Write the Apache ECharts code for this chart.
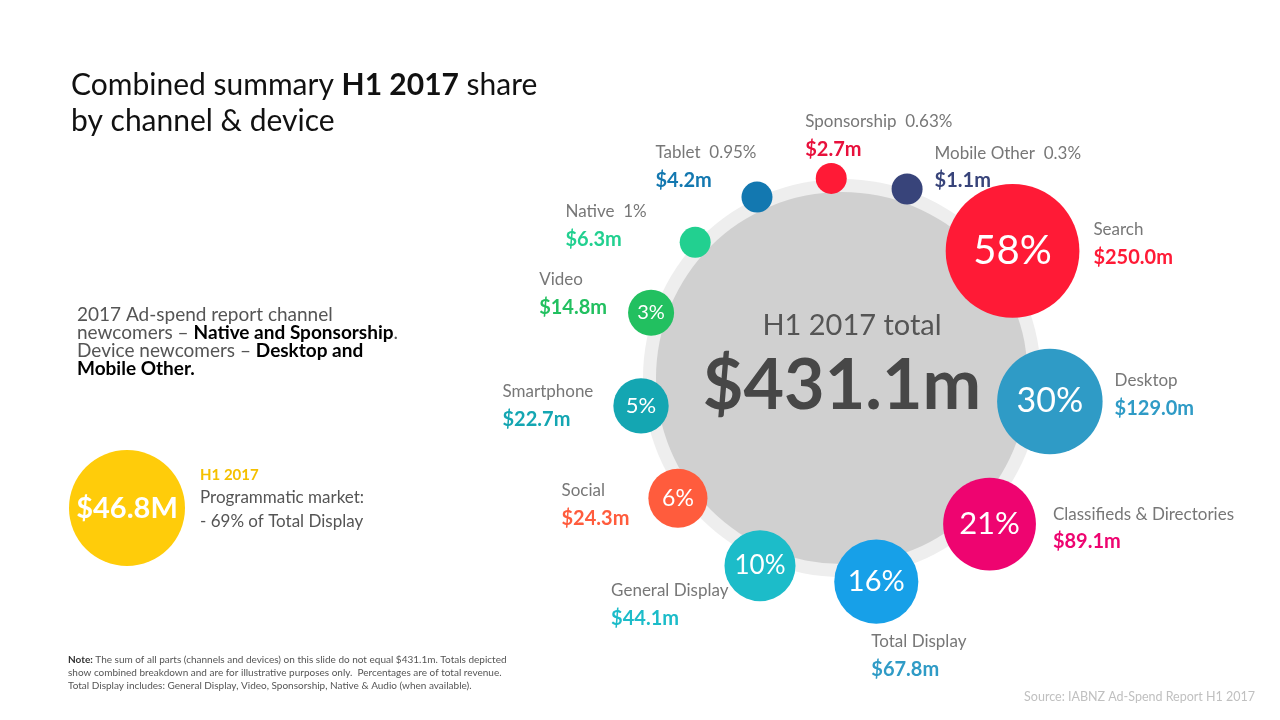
<!DOCTYPE html>
<html>
<head>
<meta charset="utf-8">
<title>Combined summary H1 2017 share by channel & device</title>
<script src="https://cdn.jsdelivr.net/npm/echarts@6/dist/echarts.min.js"></script>
<style>
  html, body { margin: 0; padding: 0; background: #fff; }
  #chart { width: 1280px; height: 720px; }
</style>
</head>
<body>
<div id="chart"></div>
<script>
// values
var channels = ['Search', 'Desktop', 'Classifieds & Directories', 'Total Display', 'General Display',
    'Social', 'Smartphone', 'Video', 'Native', 'Tablet', 'Sponsorship', 'Mobile Other'];
var sharePct = [58, 30, 21, 16, 10, 6, 5, 3, 1, 0.95, 0.63, 0.3];
var spendM = [250.0, 129.0, 89.1, 67.8, 44.1, 24.3, 22.7, 14.8, 6.3, 4.2, 2.7, 1.1];
var totalSpend = 431.1;
var programmaticSpend = 46.8;
var programmaticShare = 69;

var bubbleColors = ['#ff1a36', '#2f9bc6', '#ee0470', '#17a0e8', '#1cbcc9', '#ff5c3d',
    '#14a6b2', '#22c060', '#22d090', '#1378b0', '#ff1a36', '#38447a'];
var valueColors = ['#ff1a36', '#2f9bc6', '#ee0470', '#2f9bc6', '#1cbcc9', '#ff5c3d',
    '#14a6b2', '#22c060', '#22d090', '#1378b0', '#e8103c', '#38447a'];

var FONT = 'Lato, "Open Sans", sans-serif';
var CX = 842, CY = 378;

// bubble radius (px) from share, small ones clamped
function bubbleR(p) {
    return Math.max(15.5, 15.5 * Math.pow(p, 0.36));
}
var radii = sharePct.map(bubbleR);

// put the bubbles round the ring, spacing grows with bubble size
var arcR = 205, k = 0.85;
var sumR = radii.reduce(function (s, r) { return s + r; }, 0);
var gap = (2 * Math.PI * arcR - 2 * k * sumR) / radii.length;
var angles = [];
var a = 53.3;
for (var i = 0; i < radii.length; i++) {
    angles.push(a % 360);
    a += (k * (radii[i] + radii[(i + 1) % radii.length]) + gap) / arcR * 180 / Math.PI;
}

// where each outer label sits relative to its bubble
var labelPlace = [
    {position: 'right', distance: 14, offset: [0, -7]},
    {position: 'right', distance: 12, offset: [0, -7]},
    {position: 'right', distance: 17, offset: [0, 4]},
    {position: 'bottom', distance: 4, align: 'left', offset: [-5, 0]},
    {position: 'left', distance: -4, offset: [0, 39]},
    {position: 'left', distance: 19, offset: [0, 6]},
    {position: 'left', distance: 20, offset: [0, 0]},
    {position: 'left', distance: 21, offset: [0, -19]},
    {position: 'left', distance: 33, offset: [0, -17]},
    {position: 'left', distance: -15, offset: [0, -31]},
    {position: 'inside', align: 'left', offset: [-26, -43]},
    {position: 'right', distance: 12, offset: [0, -22]}
];

var bubbleData = channels.map(function (c, i) {
    return {
        name: c,
        value: [196 + 0.25 * radii[i], angles[i]],
        itemStyle: {color: bubbleColors[i], opacity: 1},
        label: {fontSize: Math.round(0.45 * radii[i] + 10)}
    };
});

var labelData = channels.map(function (c, i) {
    var lp = labelPlace[i];
    var rich = {
        n: {fontFamily: FONT, fontSize: 17, color: '#777777', lineHeight: 28, align: 'left'},
        v: {fontFamily: FONT, fontSize: 20, fontWeight: 'bold', color: valueColors[i], lineHeight: 28, align: 'left'}
    };
    return {
        name: c,
        value: [196 + 0.25 * radii[i], angles[i]],
        label: {
            position: lp.position,
            distance: lp.distance,
            offset: lp.offset,
            align: lp.align,
            rich: rich
        }
    };
});

var chart = echarts.init(document.getElementById('chart'));

var option = {
    animation: false,
    backgroundColor: '#ffffff',
    textStyle: {fontFamily: FONT},
    title: {
        left: 66,
        top: 62,
        text: '{r|Combined summary }{b|H1 2017}{r| share}\n{r|by channel & device}',
        textStyle: {
            fontWeight: 'normal',
            rich: {
                r: {fontFamily: FONT, fontSize: 30, color: '#111', fontWeight: 'normal', lineHeight: 36},
                b: {fontFamily: FONT, fontSize: 30, color: '#111', fontWeight: 'bold', lineHeight: 36}
            }
        }
    },
    polar: {center: [CX, CY], radius: 260},
    angleAxis: {type: 'value', min: 0, max: 360, startAngle: 90, clockwise: true, show: false},
    radiusAxis: {type: 'value', min: 0, max: 260, show: false},
    graphic: [
        {type: 'circle', shape: {cx: CX, cy: CY, r: 199}, style: {fill: '#eeeeee'}, silent: true, z: 0},
        {type: 'circle', shape: {cx: CX, cy: CY, r: 186}, style: {fill: '#d0d0d0'}, silent: true, z: 0},
        {type: 'text', x: CX + 10, y: 326, z: 1, style: {
            text: 'H1 2017 total', fontFamily: FONT, fontSize: 29, fill: '#555',
            align: 'center', verticalAlign: 'middle'}},
        {type: 'text', x: CX, y: 386, z: 1, style: {
            text: '$' + totalSpend.toFixed(1) + 'm', fontFamily: FONT, fontSize: 70, fontWeight: 'bold',
            fill: '#474747', align: 'center', verticalAlign: 'middle'}},
        {type: 'text', x: 77, y: 306, style: {
            text: '{r|2017 Ad-spend report channel}\n{r|newcomers – }{b|Native and Sponsorship}{r|.}\n' +
                  '{r|Device newcomers – }{b|Desktop and}\n{b|Mobile Other.}',
            rich: {
                r: {fontFamily: FONT, fontSize: 19, fill: '#555', lineHeight: 18},
                b: {fontFamily: FONT, fontSize: 19, fill: '#000', fontWeight: 'bold', lineHeight: 18}
            }}},
        {type: 'circle', shape: {cx: 127, cy: 508, r: 58}, style: {fill: '#ffcc0a'}},
        {type: 'text', x: 127, y: 509, style: {
            text: '$' + programmaticSpend.toFixed(1) + 'M', fontFamily: FONT, fontSize: 29, fontWeight: 'bold',
            fill: '#fff', align: 'center', verticalAlign: 'middle'}},
        {type: 'text', x: 200, y: 464, style: {
            text: '{y|H1 2017}\n{g|Programmatic market:}\n{g|- ' + programmaticShare + '% of Total Display}',
            rich: {
                y: {fontFamily: FONT, fontSize: 15, fontWeight: 'bold', fill: '#f5c000', lineHeight: 22},
                g: {fontFamily: FONT, fontSize: 17, fill: '#555', lineHeight: 24}
            }}},
        {type: 'text', x: 68, y: 653, style: {
            text: '{b|Note:}{r| The sum of all parts (channels and devices) on this slide do not equal $431.1m. Totals depicted}\n' +
                  '{r|show combined breakdown and are for illustrative purposes only.  Percentages are of total revenue.}\n' +
                  '{r|Total Display includes: General Display, Video, Sponsorship, Native & Audio (when available).}',
            rich: {
                r: {fontFamily: FONT, fontSize: 10, fill: '#555', lineHeight: 13},
                b: {fontFamily: FONT, fontSize: 10, fill: '#333', fontWeight: 'bold', lineHeight: 13}
            }}},
        {type: 'text', x: 1255, y: 697, style: {
            text: 'Source: IABNZ Ad-Spend Report H1 2017', fontFamily: FONT, fontSize: 12.5, fill: '#c0c0c0',
            align: 'right', verticalAlign: 'middle'}}
    ],
    series: [
        {
            name: 'share',
            type: 'scatter',
            coordinateSystem: 'polar',
            symbol: 'circle',
            symbolSize: function (val, p) { return 2 * radii[p.dataIndex]; },
            itemStyle: {opacity: 1},
            silent: true,
            z: 3,
            label: {
                show: true,
                position: 'inside',
                color: '#fff',
                fontFamily: FONT,
                formatter: function (p) {
                    var v = sharePct[p.dataIndex];
                    return v >= 3 ? Math.round(v) + '%' : '';
                }
            },
            data: bubbleData
        },
        {
            name: 'labels',
            type: 'scatter',
            coordinateSystem: 'polar',
            symbol: 'circle',
            symbolSize: function (val, p) { return 2 * radii[p.dataIndex]; },
            itemStyle: {color: 'rgba(0,0,0,0)', opacity: 1},
            silent: true,
            z: 4,
            label: {
                show: true,
                formatter: function (p) {
                    var i = p.dataIndex;
                    var name = channels[i] + (sharePct[i] < 3 ? '  ' + sharePct[i] + '%' : '');
                    return '{n|' + name + '}\n{v|$' + spendM[i].toFixed(1) + 'm}';
                }
            },
            data: labelData
        }
    ]
};

chart.setOption(option);
</script>
</body>
</html>
